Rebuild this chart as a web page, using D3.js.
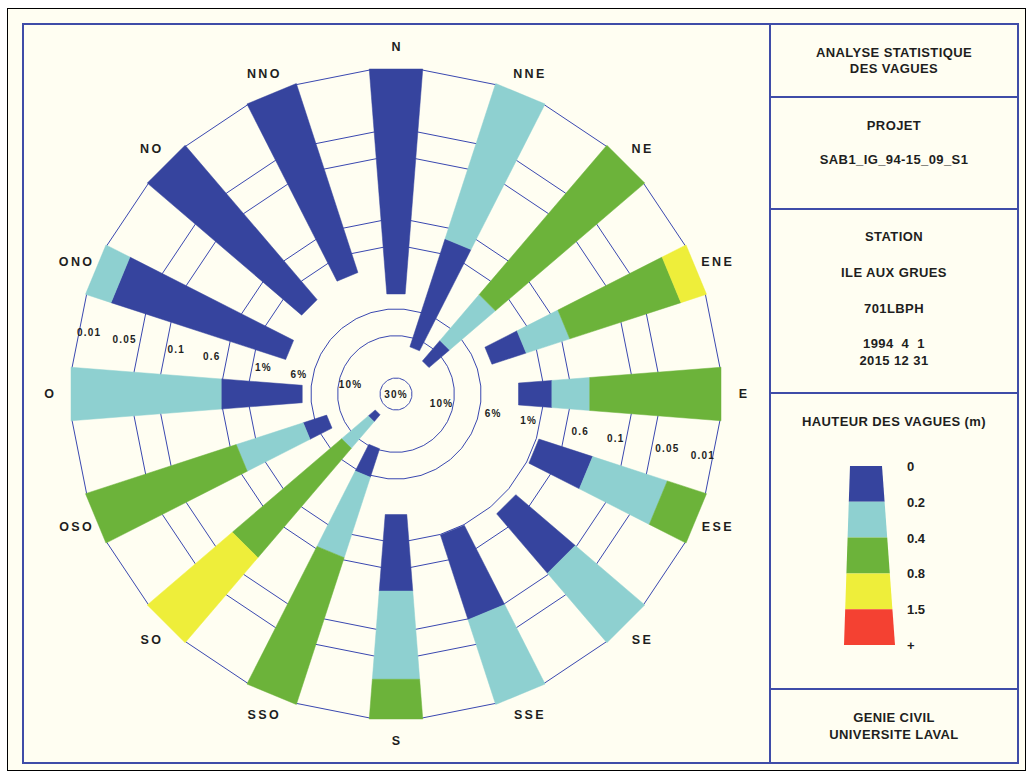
<!DOCTYPE html>
<html>
<head>
<meta charset="utf-8">
<script src="https://cdn.jsdelivr.net/npm/d3@7"></script>
<style>
body { margin: 0; background: #fff; }
text { font-family: "Liberation Sans", Arial, sans-serif; font-weight: bold; fill: #1e1e1e; }
</style>
</head>
<body>
<svg id="chart" width="1032" height="775"></svg>
<script>
// directions (rose des vagues)
const directions = ['N','NNE','NE','ENE','E','ESE','SE','SSE','S','SSO','SO','OSO','O','ONO','NO','NNO'];

// frequence de depassement (%) par direction : H > 0, 0.2, 0.4, 0.8, 1.5 m
const pH00 = [3.4, 12.8, 15.3, 3.4, 1.9, 0.95, 0.8, 1.0, 2.0, 10.4, 23.2, 7.0, 4.0, 2.3, 1.9, 1.7];
const pH02 = [0, 0.68, 7.6, 1.34, 0.8, 0.22, 0.106, 0.1, 0.275, 4.8, 18.3, 3.7, 0.49, 0.02, 0, 0];
const pH04 = [0, 0, 1.6, 0.41, 0.3, 0.029, 0, 0, 0.028, 0.54, 7.4, 0.6, 0, 0, 0, 0];
const pH08 = [0, 0, 0, 0.02, 0, 0, 0, 0, 0, 0, 0.18, 0, 0, 0, 0, 0];
const pH15 = [0, 0, 0, 0, 0, 0, 0, 0, 0, 0, 0, 0, 0, 0, 0, 0];

// cercles et etiquettes
const ringValues = [30, 10, 5, 1, 0.5, 0.1, 0.05, 0.01];
const ringLabels = ['30%', '10%', '6%', '1%', '0.6', '0.1', '0.05', '0.01'];

// legende
const classLabels = ['0', '0.2', '0.4', '0.8', '1.5', '+'];
const classColors = ['#36449e', '#8ed0d0', '#6cb33a', '#eeee3a', '#f44132'];

const infoLines = [
  { t: 'ANALYSE STATISTIQUE', y: 57 }, { t: 'DES VAGUES', y: 73 },
  { t: 'PROJET', y: 130 }, { t: 'SAB1_IG_94-15_09_S1', y: 164 },
  { t: 'STATION', y: 241 }, { t: 'ILE AUX GRUES', y: 277 }, { t: '701LBPH', y: 313 },
  { t: '1994  4  1', y: 348 }, { t: '2015 12 31', y: 365 },
  { t: 'HAUTEUR DES VAGUES (m)', y: 426 },
  { t: 'GENIE CIVIL', y: 722 }, { t: 'UNIVERSITE LAVAL', y: 739 }
];

const svg = d3.select('#chart');
const cx = 396, cy = 394;
const frameBlue = '#3f4ca8';

// fond
svg.append('rect').attr('x', 7.5).attr('y', 8.5).attr('width', 1018).attr('height', 762)
  .attr('fill', '#fffef2').attr('stroke', '#000').attr('stroke-width', 1);

const rScale = d3.scaleLog().domain([30, 0.01]).range([16, 325]).clamp(true);
const R = p => rScale(Math.max(p, 0.01));
const halfW = r => 1.4 + 0.078 * r;
const ang = d3.scaleLinear().domain([0, directions.length]).range([0, 2 * Math.PI]);

const g = svg.append('g').attr('transform', `translate(${cx},${cy})`);

function pt(theta, r, side) {
  const w = halfW(r) * side;
  return [r * Math.sin(theta) + w * Math.cos(theta), -r * Math.cos(theta) + w * Math.sin(theta)];
}

// cercles (polygones entre les barres)
g.selectAll('path.ring')
  .data(ringValues)
  .enter()
  .append('path')
  .attr('class', 'ring')
  .attr('d', v => {
    const r = rScale(v);
    const pts = [];
    directions.forEach((d, i) => {
      const th = ang(i);
      const del = Math.atan(halfW(r) / r);
      [th - del, th + del].forEach(a => pts.push([r * Math.sin(a), -r * Math.cos(a)]));
    });
    return d3.line().curve(d3.curveLinearClosed)(pts);
  })
  .attr('fill', 'none')
  .attr('stroke', '#3a48b0')
  .attr('stroke-width', 1);

// barres
const levels = [pH00, pH02, pH04, pH08, pH15];
const segs = [];
directions.forEach((d, i) => {
  levels.forEach((arr, k) => {
    const from = arr[i];
    const to = k + 1 < levels.length ? levels[k + 1][i] : 0;
    const r0 = R(from), r1 = R(to);
    if (from > 0 && r1 > r0) segs.push({ i, k, r0, r1 });
  });
});

g.selectAll('path.seg')
  .data(segs)
  .enter()
  .append('path')
  .attr('class', 'seg')
  .attr('d', s => {
    const th = ang(s.i);
    return d3.line()([pt(th, s.r0, -1), pt(th, s.r1, -1), pt(th, s.r1, 1), pt(th, s.r0, 1)]) + 'Z';
  })
  .attr('fill', s => classColors[s.k])
  .attr('stroke', s => classColors[s.k])
  .attr('stroke-width', 0.5);

// etiquettes des cercles
const labAng = (281.4 * Math.PI) / 180;
ringValues.forEach((v, j) => {
  const rr = j === 0 ? 0 : rScale(v) + (j % 2 ? -12 : 14);
  [1, -1].forEach(side => {
    if (j === 0 && side === -1) return;
    g.append('text')
      .attr('x', side * rr * Math.sin(labAng))
      .attr('y', -side * rr * Math.cos(labAng))
      .attr('dy', '0.35em')
      .attr('text-anchor', 'middle')
      .style('font-size', '10px')
      .style('letter-spacing', '1.2px')
      .text(ringLabels[j]);
  });
});

// noms des directions
g.selectAll('text.dir')
  .data(directions)
  .enter()
  .append('text')
  .attr('class', 'dir')
  .attr('x', (d, i) => 347 * Math.sin(ang(i)) + 1.2)
  .attr('y', (d, i) => -347 * Math.cos(ang(i)))
  .attr('dy', '0.35em')
  .attr('text-anchor', 'middle')
  .style('font-size', '12.5px')
  .style('letter-spacing', '2.4px')
  .text(d => d);

// cadre
svg.append('rect').attr('x', 23).attr('y', 24).attr('width', 995).attr('height', 739)
  .attr('fill', 'none').attr('stroke', frameBlue).attr('stroke-width', 2);
svg.append('line').attr('x1', 770).attr('x2', 770).attr('y1', 24).attr('y2', 763)
  .attr('stroke', frameBlue).attr('stroke-width', 2);
[97, 209, 393, 689].forEach(y => {
  svg.append('line').attr('x1', 770).attr('x2', 1018).attr('y1', y).attr('y2', y)
    .attr('stroke', frameBlue).attr('stroke-width', 2);
});

// textes du panneau
svg.selectAll('text.info')
  .data(infoLines)
  .enter()
  .append('text')
  .attr('class', 'info')
  .attr('x', 894)
  .attr('y', d => d.y)
  .attr('text-anchor', 'middle')
  .style('font-size', '13px')
  .style('letter-spacing', '0.4px')
  .style('white-space', 'pre')
  .text(d => d.t);

// legende
const ly = d3.scaleLinear().domain([0, classColors.length]).range([466, 645]);
const lxl = d3.scaleLinear().domain([0, classColors.length]).range([850, 844]);
const lxr = d3.scaleLinear().domain([0, classColors.length]).range([882, 895]);

svg.selectAll('path.leg')
  .data(classColors)
  .enter()
  .append('path')
  .attr('class', 'leg')
  .attr('d', (c, i) => d3.line()([[lxl(i), ly(i)], [lxr(i), ly(i)], [lxr(i + 1), ly(i + 1)], [lxl(i + 1), ly(i + 1)]]) + 'Z')
  .attr('fill', c => c);

svg.selectAll('text.leglab')
  .data(classLabels)
  .enter()
  .append('text')
  .attr('class', 'leglab')
  .attr('x', 907)
  .attr('y', (d, i) => ly(i) + 5)
  .style('font-size', '13px')
  .text(d => d);
</script>
</body>
</html>
